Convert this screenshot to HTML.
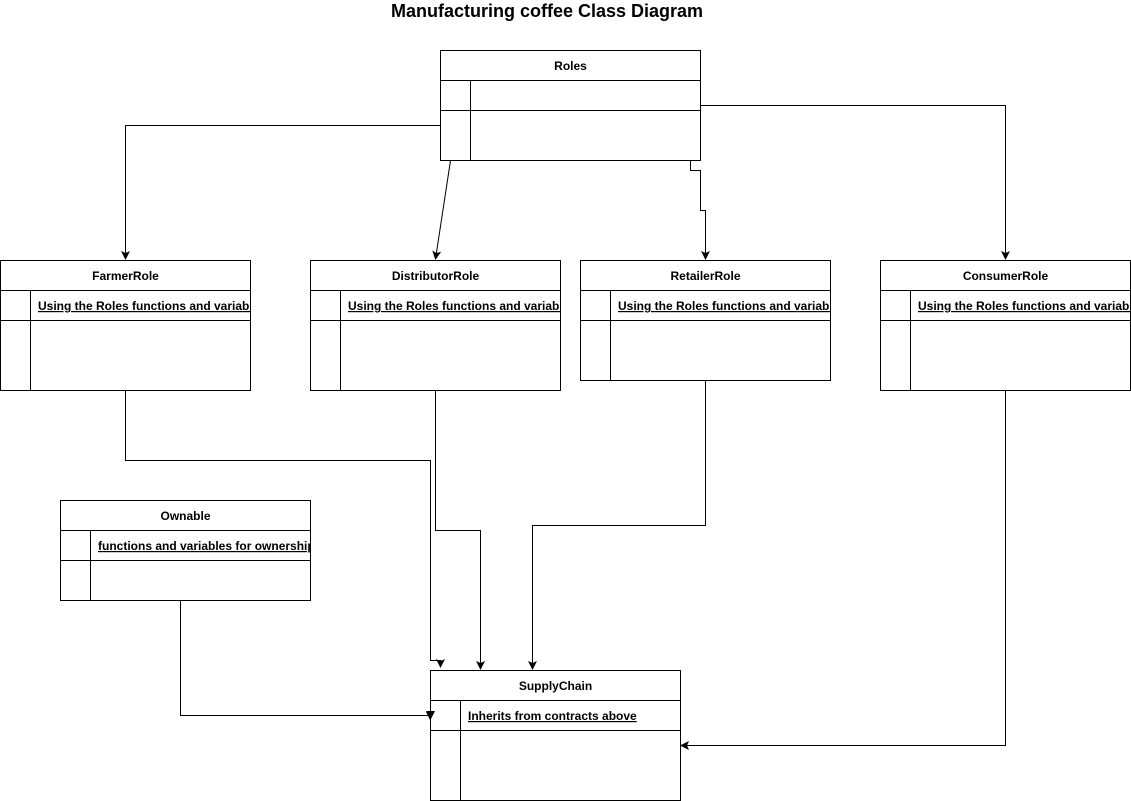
<!DOCTYPE html>
<html><head><meta charset="utf-8"><style>
html,body{margin:0;padding:0;background:#fff;}
svg{display:block;font-family:"Liberation Sans",Arial,sans-serif;}
.b{fill:#fff;stroke:#000;stroke-width:1;}
.l{fill:none;stroke:#000;stroke-width:1;}
.h{font-size:12px;font-weight:bold;text-anchor:middle;}
.t{font-size:12px;font-weight:bold;text-decoration:underline;}
</style></head><body>
<svg width="1131" height="801" viewBox="0 0 1131 801" xmlns="http://www.w3.org/2000/svg">
<defs>
<marker id="a" markerWidth="9" markerHeight="9" refX="8" refY="4.5" orient="auto" markerUnits="userSpaceOnUse">
<path d="M0,0 L9,4.5 L0,9 L2,4.5 Z" fill="#000"/>
</marker>
<clipPath id="c1"><rect x="0" y="290" width="250" height="30"/></clipPath>
<clipPath id="c2"><rect x="310" y="290" width="250" height="30"/></clipPath>
<clipPath id="c3"><rect x="580" y="290" width="250" height="30"/></clipPath>
<clipPath id="c4"><rect x="880" y="290" width="250" height="30"/></clipPath>
<clipPath id="c5"><rect x="60" y="530" width="250" height="30"/></clipPath>
</defs>
<text x="547" y="17" font-size="18" font-weight="bold" text-anchor="middle">Manufacturing coffee Class Diagram</text>

<path class="l" d="M440.5,125.5 H125.5 V259" marker-end="url(#a)"/>
<path class="l" d="M450.5,160.5 L435.5,259" marker-end="url(#a)"/>
<path class="l" d="M690.5,160.5 V170.5 H700.5 V210.5 H705.5 V259" marker-end="url(#a)"/>
<path class="l" d="M700.5,105.5 H1005.5 V259" marker-end="url(#a)"/>
<path class="l" d="M125.5,390.5 V460.5 H430.5 V660.5 H440.5 V667" marker-end="url(#a)"/>
<path class="l" d="M435.5,390.5 V530.5 H480.5 V669" marker-end="url(#a)"/>
<path class="l" d="M705.5,380.5 V525.5 H532.5 V669" marker-end="url(#a)"/>
<path class="l" d="M1005.5,390.5 V745.5 H681" marker-end="url(#a)"/>
<path class="l" d="M180.5,600.5 V715.5 H430.5 V720" marker-end="url(#a)"/>

<rect class="b" x="440.5" y="50.5" width="260" height="110"/>
<path class="l" d="M440.5,80.5 H700.5 M440.5,110.5 H700.5 M470.5,80.5 V160.5"/>
<text class="h" x="570.5" y="70">Roles</text>

<rect class="b" x="0.5" y="260.5" width="250" height="130"/>
<path class="l" d="M0.5,290.5 H250.5 M0.5,320.5 H250.5 M30.5,290.5 V390.5"/>
<text class="h" x="125.5" y="280">FarmerRole</text>
<text class="t" x="38" y="310" clip-path="url(#c1)">Using the Roles functions and variables</text>

<rect class="b" x="310.5" y="260.5" width="250" height="130"/>
<path class="l" d="M310.5,290.5 H560.5 M310.5,320.5 H560.5 M340.5,290.5 V390.5"/>
<text class="h" x="435.5" y="280">DistributorRole</text>
<text class="t" x="348" y="310" clip-path="url(#c2)">Using the Roles functions and variables</text>

<rect class="b" x="580.5" y="260.5" width="250" height="120"/>
<path class="l" d="M580.5,290.5 H830.5 M580.5,320.5 H830.5 M610.5,290.5 V380.5"/>
<text class="h" x="705.5" y="280">RetailerRole</text>
<text class="t" x="618" y="310" clip-path="url(#c3)">Using the Roles functions and variables</text>

<rect class="b" x="880.5" y="260.5" width="250" height="130"/>
<path class="l" d="M880.5,290.5 H1130.5 M880.5,320.5 H1130.5 M910.5,290.5 V390.5"/>
<text class="h" x="1005.5" y="280">ConsumerRole</text>
<text class="t" x="918" y="310" clip-path="url(#c4)">Using the Roles functions and variables</text>

<rect class="b" x="60.5" y="500.5" width="250" height="100"/>
<path class="l" d="M60.5,530.5 H310.5 M60.5,560.5 H310.5 M90.5,530.5 V600.5"/>
<text class="h" x="185.5" y="520">Ownable</text>
<text class="t" x="98" y="550" clip-path="url(#c5)">functions and variables for ownership</text>

<rect class="b" x="430.5" y="670.5" width="250" height="130"/>
<path class="l" d="M430.5,700.5 H680.5 M430.5,730.5 H680.5 M460.5,700.5 V800.5"/>
<text class="h" x="555.5" y="690">SupplyChain</text>
<text class="t" x="468" y="720">Inherits from contracts above</text>
<path d="M426,711 L435,711 L430.5,720 Z" fill="#000"/>
</svg>
</body></html>
